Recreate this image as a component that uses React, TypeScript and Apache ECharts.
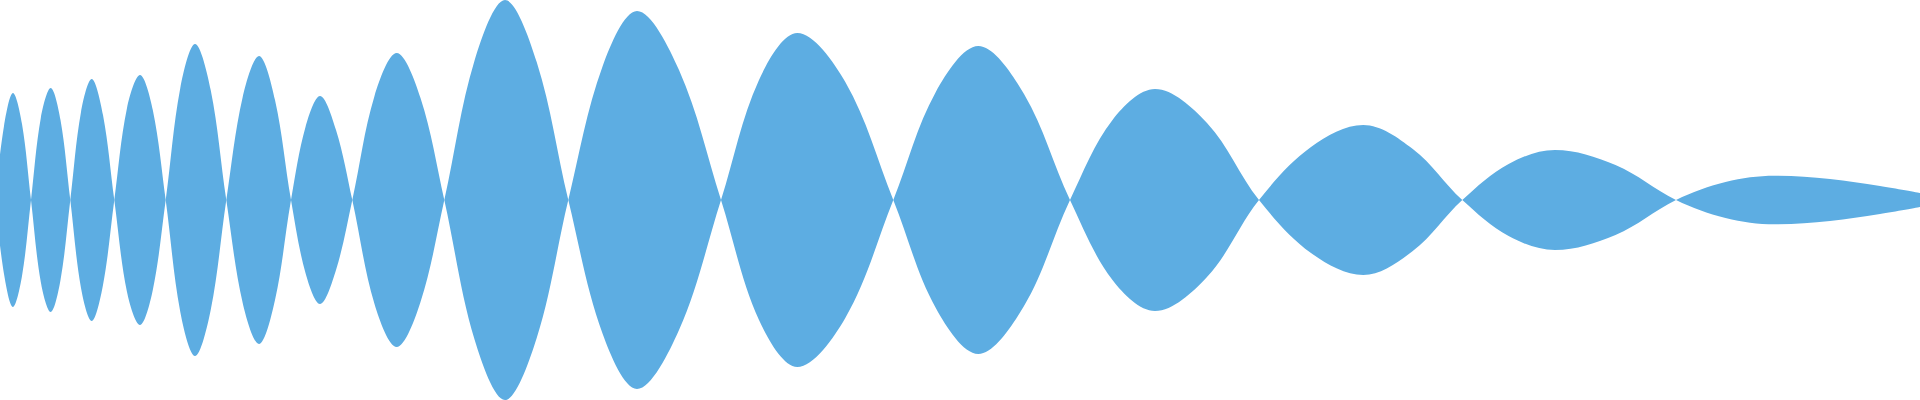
import { useEffect, useRef } from "react";
import * as echarts from "echarts";

// x positions (px along the strip): zero crossing, flank, crest, flank, crossing...
const pointX = [
  -5, 4, 13, 22, 31,
  40.8, 50.7, 60.5, 70.3,
  81, 91.7, 103, 114.3,
  127, 140, 152.8, 165.7,
  180.3, 195, 210.7, 226.3,
  242.7, 259, 275, 291,
  305.5, 320, 336, 352.3,
  374.5, 396.7, 420.5, 444.3,
  474.7, 505, 536.7, 568.3,
  602.7, 637, 679, 721,
  759, 797.3, 845.3, 893.3,
  935.8, 978.3, 1024, 1070,
  1112.5, 1155, 1207, 1259,
  1311, 1363.3, 1412.8, 1462.3,
  1508.6, 1555, 1615.5, 1676,
  1725.5, 1775, 1830, 1880, 1920,
];

// half height of the wave at each of those points (0 at crossings)
const amplitude = [
  0, 74, 107, 76, 0,
  82, 112, 80, 0,
  88, 121, 85, 0,
  92, 125, 90, 0,
  112, 156, 110, 0,
  103, 144, 100, 0,
  73, 104, 70, 0,
  104, 147, 102, 0,
  140, 200, 138, 0,
  134, 189, 130, 0,
  120, 167, 118, 0,
  108, 154, 106, 0,
  80, 111, 77, 0,
  53, 75, 51, 0,
  36, 50, 35, 0,
  18, 24.3, 21, 14, 7,
];

const waveColor = "#5dade2";

const App = () => {
  const chartRef = useRef(null);

  useEffect(() => {
    document.body.style.margin = "0";
    const chart = echarts.init(chartRef.current, null, { renderer: "svg" });

    // every lobe flips sign so the curve runs through zero like a sine
    let lobe = -1;
    const upper = pointX.map((x, i) => {
      const v = amplitude[i];
      if (v === 0) {
        lobe++;
        return [x, 0];
      }
      return [x, lobe % 2 === 0 ? v : -v];
    });
    const lower = upper.map((p) => [p[0], -p[1]]);

    const areaSeries = (name, data) => ({
      name,
      type: "line",
      data,
      smooth: 0.35,
      showSymbol: false,
      lineStyle: { width: 0 },
      itemStyle: { color: waveColor },
      areaStyle: { color: waveColor, opacity: 1 },
    });

    const option: any = {
      animation: false,
      grid: { left: 0, right: 0, top: 0, bottom: 0 },
      xAxis: { type: "value", min: 0, max: 1920, show: false },
      yAxis: { type: "value", min: -200, max: 200, show: false },
      series: [areaSeries("upper", upper), areaSeries("lower", lower)],
    };

    chart.setOption(option);

    return () => {
      chart.dispose();
    };
  }, []);

  return <div ref={chartRef} style={{ width: "1920px", height: "400px" }} />;
};

export default App;
